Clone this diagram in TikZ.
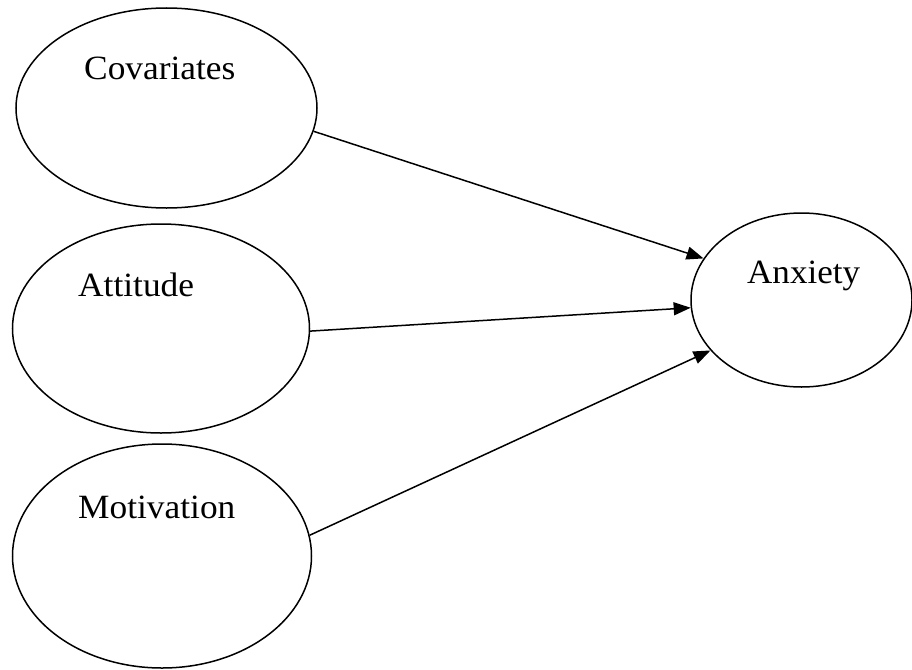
\documentclass[tikz,border=0pt]{standalone}
\usepackage{fontspec}
\setmainfont{Liberation Serif}
\usetikzlibrary{shapes.geometric,arrows.meta}
\begin{document}
\begin{tikzpicture}[x=1pt,y=-1pt,
  oval/.style={draw,ellipse,line width=1.5pt,inner sep=0pt},
  lbl/.style={anchor=base west,inner sep=0pt,font=\fontsize{34}{40}\selectfont},
  conn/.style={line width=1.5pt,-{Triangle[length=17pt,width=13pt]}}]
\useasboundingbox (0,0) rectangle (912,669);
\node[oval,minimum width=301pt,minimum height=200pt] (cov) at (166.5,108) {};
\node[oval,minimum width=297pt,minimum height=209pt] (att) at (161,328.5) {};
\node[oval,minimum width=299pt,minimum height=224pt] (mot) at (162,556) {};
\node[oval,minimum width=221pt,minimum height=174pt] (anx) at (801.5,300) {};
\node[lbl] (tcov) at (84,79) {\scalebox{1.04}[1]{Covariates}};
\node[lbl] (tatt) at (78,296) {\scalebox{1.04}[1]{Attitude}};
\node[lbl] (tmot) at (78,518) {\scalebox{1.04}[1]{Motivation}};
\node[lbl] (tanx) at (747,283) {\scalebox{1.03}[1]{Anxiety}};
\draw[conn] (cov.-9.2) -- (anx.157.5);
\draw[conn] (att.-1.7) -- (anx.-176.2);
\draw[conn] (mot.8.7) -- (anx.209.5);
\end{tikzpicture}
\end{document}
